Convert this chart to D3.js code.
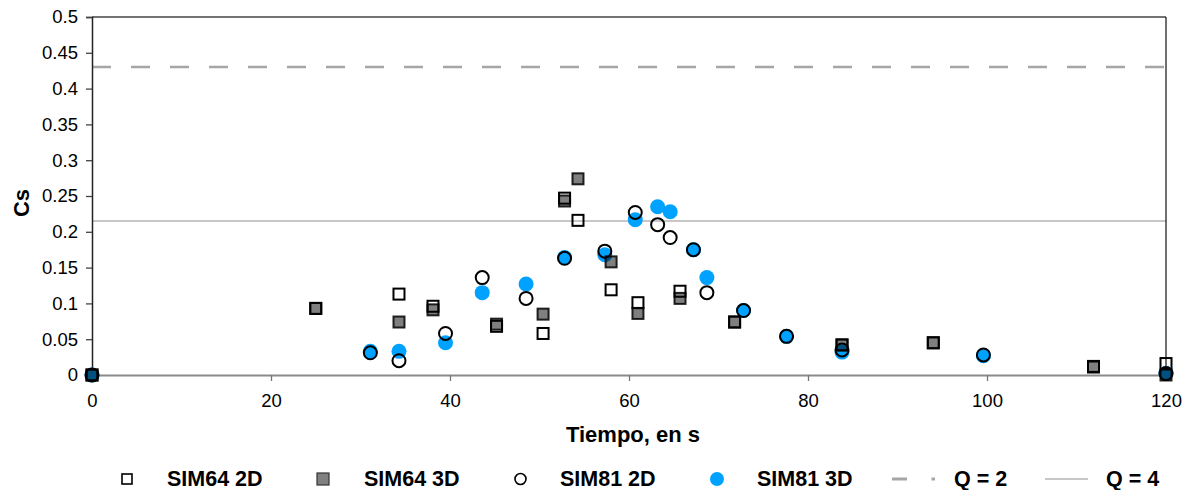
<!DOCTYPE html>
<html>
<head>
<meta charset="utf-8">
<script src="https://cdn.jsdelivr.net/npm/d3@7/dist/d3.min.js"></script>
<style>
  html, body { margin: 0; padding: 0; background: #fff; }
  svg { display: block; font-family: "Liberation Sans", Arial, sans-serif; }
</style>
</head>
<body>
<svg id="chart" width="1186" height="490"></svg>
<script>
// ---- data ----
const sim64_2d_t = [0, 25, 34.3, 38.1, 45.2, 50.4, 52.8, 54.3, 58.0, 61.0, 65.7, 71.8, 83.8, 94.0, 111.9, 120];
const sim64_2d_v = [0, 0.093, 0.113, 0.096, 0.068, 0.058, 0.247, 0.216, 0.119, 0.101, 0.117, 0.074, 0.042, 0.045, 0.012, 0.016];

const sim64_3d_t = [0, 25, 34.3, 38.1, 45.2, 50.4, 52.8, 54.3, 58.0, 61.0, 65.7, 71.8, 83.8, 94.0, 111.9, 120];
const sim64_3d_v = [0, 0.093, 0.074, 0.091, 0.071, 0.085, 0.243, 0.274, 0.158, 0.086, 0.107, 0.074, 0.042, 0.045, 0.011, 0.0];

const sim81_2d_t = [0, 31.1, 34.3, 39.5, 43.6, 48.5, 52.8, 57.3, 60.7, 63.2, 64.6, 67.2, 68.7, 72.8, 77.6, 83.8, 99.6, 120];
const sim81_2d_v = [0, 0.031, 0.020, 0.058, 0.136, 0.107, 0.163, 0.173, 0.227, 0.210, 0.192, 0.175, 0.115, 0.090, 0.054, 0.035, 0.028, 0.002];

const sim81_3d_t = [0, 31.1, 34.3, 39.5, 43.6, 48.5, 52.8, 57.3, 60.7, 63.2, 64.6, 67.2, 68.7, 72.8, 77.6, 83.8, 99.6, 120];
const sim81_3d_v = [0, 0.033, 0.033, 0.045, 0.115, 0.127, 0.164, 0.168, 0.217, 0.235, 0.228, 0.175, 0.136, 0.090, 0.054, 0.032, 0.027, 0.002];

const q2 = 0.43;
const q4 = 0.215;

const xTicks = [0, 20, 40, 60, 80, 100, 120];
const yTicks = [0, 0.05, 0.1, 0.15, 0.2, 0.25, 0.3, 0.35, 0.4, 0.45, 0.5];
const xLabel = "Tiempo, en s";
const yLabel = "Cs";
const legendLabels = ["SIM64 2D", "SIM64 3D", "SIM81 2D", "SIM81 3D", "Q = 2", "Q = 4"];

// ---- layout ----
const L = 92, R = 1166, T = 17, B = 375;
const svg = d3.select("#chart");
const x = d3.scaleLinear().domain([0, 120]).range([L, R]);
const y = d3.scaleLinear().domain([0, 0.5]).range([B, T]);

const zip = (t, v) => t.map((d, i) => ({ t: d, v: v[i] }));

// reference lines
svg.append("line")
  .attr("x1", x(0)).attr("x2", x(120)).attr("y1", y(q2)).attr("y2", y(q2))
  .attr("stroke", "#a6a6a6").attr("stroke-width", 2.5).attr("stroke-dasharray", "19,20");
svg.append("line")
  .attr("x1", x(0)).attr("x2", x(120)).attr("y1", y(q4)).attr("y2", y(q4))
  .attr("stroke", "#b4b4b4").attr("stroke-width", 1.5);

// frame: top and right
svg.append("line").attr("x1", L).attr("x2", R).attr("y1", T).attr("y2", T)
  .attr("stroke", "#444").attr("stroke-width", 1.3);
svg.append("line").attr("x1", R).attr("x2", R).attr("y1", T).attr("y2", B)
  .attr("stroke", "#222").attr("stroke-width", 1.3);

// axes
const yAxis = svg.append("g").attr("transform", `translate(${L},0)`)
  .call(d3.axisLeft(y).tickValues(yTicks).tickSize(6).tickPadding(8)
    .tickFormat(d => String(+d.toFixed(2))));
yAxis.select(".domain").attr("stroke", "#222").attr("stroke-width", 1.5);
yAxis.selectAll(".tick line").attr("stroke", "#444").attr("stroke-width", 1.3);
yAxis.selectAll(".tick text").attr("font-size", 18.5).attr("fill", "#000")
  .attr("font-family", "Liberation Sans, Arial, sans-serif");

const xAxis = svg.append("g").attr("transform", `translate(0,${B})`)
  .call(d3.axisBottom(x).tickValues(xTicks).tickSize(6).tickPadding(13).tickFormat(d3.format("d")));
xAxis.select(".domain").attr("stroke", "#8a8a8a").attr("stroke-width", 2);
xAxis.selectAll(".tick line").attr("stroke", "#777").attr("stroke-width", 1.3);
xAxis.selectAll(".tick text").attr("font-size", 18.5).attr("fill", "#000")
  .attr("font-family", "Liberation Sans, Arial, sans-serif");
// redraw the left domain over bottom axis so it starts clean
yAxis.raise();

// axis titles
svg.append("text").attr("x", 633).attr("y", 442).attr("text-anchor", "middle")
  .attr("font-size", 22).attr("font-weight", "bold").text(xLabel);
svg.append("text").attr("transform", "translate(29,203) rotate(-90)").attr("text-anchor", "middle")
  .attr("font-size", 22).attr("font-weight", "bold").text(yLabel);

// ---- marks ----
const BLUE = "#00a2ff";
const sq = 11;

// SIM81 3D (blue filled circles)
svg.append("g").selectAll("circle").data(zip(sim81_3d_t, sim81_3d_v)).join("circle")
  .attr("cx", d => x(d.t)).attr("cy", d => y(d.v)).attr("r", 7.5)
  .attr("fill", BLUE);

// SIM64 2D (open squares)
svg.append("g").selectAll("rect").data(zip(sim64_2d_t, sim64_2d_v)).join("rect")
  .attr("x", d => x(d.t) - sq / 2).attr("y", d => y(d.v) - sq / 2)
  .attr("width", sq).attr("height", sq)
  .attr("fill", "none").attr("stroke", "#000").attr("stroke-width", 2);

// SIM64 3D (grey translucent squares)
svg.append("g").selectAll("rect").data(zip(sim64_3d_t, sim64_3d_v)).join("rect")
  .attr("x", d => x(d.t) - sq / 2).attr("y", d => y(d.v) - sq / 2)
  .attr("width", sq).attr("height", sq)
  .attr("fill", "rgba(0,0,0,0.5)").attr("stroke", "rgba(0,0,0,0.85)").attr("stroke-width", 2);

// SIM81 2D (open circles)
svg.append("g").selectAll("circle").data(zip(sim81_2d_t, sim81_2d_v)).join("circle")
  .attr("cx", d => x(d.t)).attr("cy", d => y(d.v)).attr("r", 6.5)
  .attr("fill", "none").attr("stroke", "#000").attr("stroke-width", 2);

// ---- legend ----
const ly = 479, lty = 486;
const lg = svg.append("g").attr("font-size", 21.5).attr("font-weight", "bold");
const textX = [167, 364, 560, 757, 954, 1106];
lg.selectAll("text").data(legendLabels).join("text")
  .attr("x", (d, i) => textX[i]).attr("y", lty).text(d => d);

lg.append("rect").attr("x", 127 - 5).attr("y", ly - 5).attr("width", 10).attr("height", 10)
  .attr("fill", "#fff").attr("stroke", "#000").attr("stroke-width", 1.6);
lg.append("rect").attr("x", 323 - 6).attr("y", ly - 6).attr("width", 12).attr("height", 12)
  .attr("fill", "#808080").attr("stroke", "#333").attr("stroke-width", 1.2);
lg.append("circle").attr("cx", 520.5).attr("cy", ly).attr("r", 5.5)
  .attr("fill", "#fff").attr("stroke", "#000").attr("stroke-width", 1.6);
lg.append("circle").attr("cx", 717).attr("cy", ly).attr("r", 7)
  .attr("fill", BLUE);
lg.append("line").attr("x1", 892).attr("x2", 907).attr("y1", ly).attr("y2", ly)
  .attr("stroke", "#a6a6a6").attr("stroke-width", 3);
lg.append("line").attr("x1", 931.5).attr("x2", 935).attr("y1", ly).attr("y2", ly)
  .attr("stroke", "#a6a6a6").attr("stroke-width", 3);
lg.append("line").attr("x1", 1045).attr("x2", 1088).attr("y1", ly).attr("y2", ly)
  .attr("stroke", "#b4b4b4").attr("stroke-width", 1.5);
</script>
</body>
</html>
